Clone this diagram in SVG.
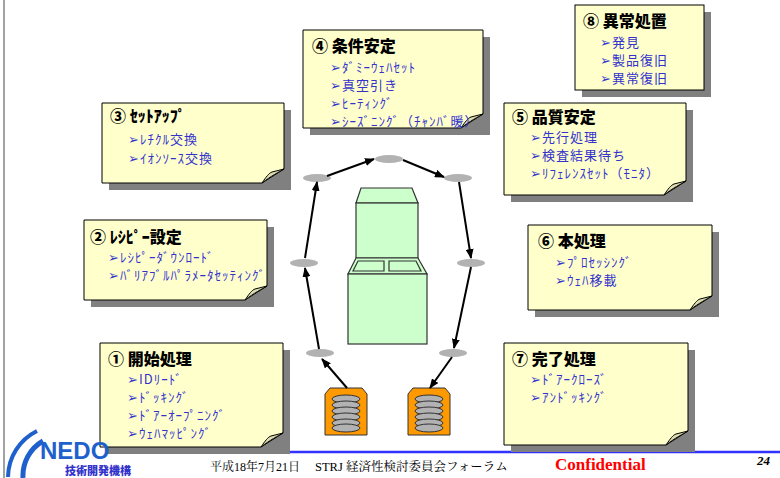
<svg xmlns="http://www.w3.org/2000/svg" width="780" height="478" viewBox="0 0 780 478">
  <defs>
    <style>
      .note { fill: #ffffcc; stroke: #000; stroke-width: 1; }
      .shadow { fill: #808080; }
      .fold { fill: #dcdcb0; stroke: #000; stroke-width: 1; }
      .title { font-family: "Noto Sans CJK JP", "DejaVu Sans", sans-serif; font-weight: 900; font-size: 16px; fill: #000; }
      .item { font-family: "Noto Sans CJK JP", "DejaVu Sans", sans-serif; font-size: 13px; letter-spacing: 1px; fill: #3333cc; }
      .hub { fill: #b2b2b2; }
      .flow { stroke: #000; stroke-width: 2; fill: none; marker-end: url(#head); }
      .machine { fill: #ccffcc; stroke: #333; stroke-width: 1.2; }
      .pod { fill: #ff9900; stroke: #333; stroke-width: 1; }
      .disc { fill: #b2b2b2; stroke: #333; stroke-width: 1; }
    </style>
    <marker id="head" markerWidth="10" markerHeight="8" refX="9" refY="4" orient="auto" markerUnits="userSpaceOnUse">
      <path d="M0,0 L10,4 L0,8 Z" fill="#000"/>
    </marker>
  </defs>

  <rect x="0" y="0" width="780" height="478" fill="#fff"/>
  <!-- page edge -->
  <line x1="4" y1="0" x2="4" y2="478" stroke="#444" stroke-width="1"/>
  <!-- footer rule -->
  <line x1="200" y1="452" x2="780" y2="452" stroke="#3333ff" stroke-width="2.5"/>

  <!-- ⑧ -->
  <g id="note8">
    <rect class="shadow" x="582" y="12" width="129" height="85"/>
    <rect class="note" x="575" y="5" width="129" height="85"/>
    <text class="title" x="583" y="27">⑧ 異常処置</text>
    <text class="item" x="600" y="47">➢発見</text>
    <text class="item" x="600" y="65">➢製品復旧</text>
    <text class="item" x="600" y="83">➢異常復旧</text>
  </g>

  <!-- ④ -->
  <g id="note4">
    <path class="shadow" d="M310,37 H490 V135 H310 Z"/>
    <path class="note" d="M303,30 H483 V114 L461,128 H303 Z"/>
    <path class="fold" d="M461,128 C465,122 468,118 471,117 C475,116 479,115 483,114 C478,117 470,121 461,128 Z"/>
    <text class="title" x="312" y="52">④ 条件安定</text>
    <text class="item" x="330" y="72">➢ﾀﾞﾐｰｳｪﾊｾｯﾄ</text>
    <text class="item" x="330" y="90">➢真空引き</text>
    <text class="item" x="330" y="108">➢ﾋｰﾃｨﾝｸﾞ</text>
    <text class="item" x="330" y="126">➢ｼｰｽﾞﾆﾝｸﾞ（ﾁｬﾝﾊﾞ暖）</text>
  </g>

  <!-- ③ -->
  <g id="note3">
    <path class="shadow" d="M109,110 H291 V190 H109 Z"/>
    <path class="note" d="M102,103 H284 V169 L262,183 H102 Z"/>
    <path class="fold" d="M262,183 C266,177 269,173 272,172 C276,171 280,170 284,169 C279,172 271,176 262,183 Z"/>
    <text class="title" x="110" y="122">③ ｾｯﾄｱｯﾌﾟ</text>
    <text class="item" x="128" y="144">➢ﾚﾁｸﾙ交換</text>
    <text class="item" x="128" y="163">➢ｲｵﾝｿｰｽ交換</text>
  </g>

  <!-- ⑤ -->
  <g id="note5">
    <path class="shadow" d="M511,110 H693 V202 H511 Z"/>
    <path class="note" d="M504,103 H686 V181 L664,195 H504 Z"/>
    <path class="fold" d="M664,195 C668,189 671,185 674,184 C678,183 682,182 686,181 C681,184 673,188 664,195 Z"/>
    <text class="title" x="512" y="123">⑤ 品質安定</text>
    <text class="item" x="530" y="142">➢先行処理</text>
    <text class="item" x="530" y="160">➢検査結果待ち</text>
    <text class="item" x="530" y="178">➢ﾘﾌｪﾚﾝｽｾｯﾄ（ﾓﾆﾀ）</text>
  </g>

  <!-- ② -->
  <g id="note2">
    <path class="shadow" d="M91,227 H274 V307 H91 Z"/>
    <path class="note" d="M84,220 H267 V286 L245,300 H84 Z"/>
    <path class="fold" d="M245,300 C249,294 252,290 255,289 C259,288 263,287 267,286 C262,289 254,293 245,300 Z"/>
    <text class="title" x="90" y="243">② ﾚｼﾋﾟｰ設定</text>
    <text class="item" x="108" y="262">➢ﾚｼﾋﾟｰﾀﾞｳﾝﾛｰﾄﾞ</text>
    <text class="item" x="108" y="280">➢ﾊﾞﾘｱﾌﾞﾙﾊﾟﾗﾒｰﾀｾｯﾃｨﾝｸﾞ</text>
  </g>

  <!-- ⑥ -->
  <g id="note6">
    <path class="shadow" d="M535,232 H719 V317 H535 Z"/>
    <path class="note" d="M528,225 H712 V296 L690,310 H528 Z"/>
    <path class="fold" d="M690,310 C694,304 697,300 700,299 C704,298 708,297 712,296 C707,299 699,303 690,310 Z"/>
    <text class="title" x="538" y="247">⑥ 本処理</text>
    <text class="item" x="555" y="267">➢ﾌﾟﾛｾｯｼﾝｸﾞ</text>
    <text class="item" x="555" y="285">➢ｳｪﾊ移載</text>
  </g>

  <!-- ① -->
  <g id="note1">
    <path class="shadow" d="M107,350 H290 V454 H107 Z"/>
    <path class="note" d="M100,343 H283 V433 L261,447 H100 Z"/>
    <path class="fold" d="M261,447 C265,441 268,437 271,436 C275,435 279,434 283,433 C278,436 270,440 261,447 Z"/>
    <text class="title" x="108" y="365">① 開始処理</text>
    <text class="item" x="127" y="384">➢IDﾘｰﾄﾞ</text>
    <text class="item" x="127" y="402">➢ﾄﾞｯｷﾝｸﾞ</text>
    <text class="item" x="127" y="420">➢ﾄﾞｱｰｵｰﾌﾟﾆﾝｸﾞ</text>
    <text class="item" x="127" y="438">➢ｳｪﾊﾏｯﾋﾟﾝｸﾞ</text>
  </g>

  <!-- ⑦ -->
  <g id="note7">
    <path class="shadow" d="M511,350 H695 V452 H511 Z"/>
    <path class="note" d="M504,343 H688 V431 L666,445 H504 Z"/>
    <path class="fold" d="M666,445 C670,439 673,435 676,434 C680,433 684,432 688,431 C683,434 675,438 666,445 Z"/>
    <text class="title" x="512" y="365">⑦ 完了処理</text>
    <text class="item" x="530" y="384">➢ﾄﾞｱｰｸﾛｰｽﾞ</text>
    <text class="item" x="530" y="402">➢ｱﾝﾄﾞｯｷﾝｸﾞ</text>
  </g>

  <!-- process tool -->
  <g id="tool">
    <path class="machine" d="M361,188 H412 L418,203 H356 Z"/>
    <rect class="machine" x="356" y="203" width="62" height="55"/>
    <path class="machine" d="M356,258 H418 L427,274 H348 Z"/>
    <path class="machine" d="M358,261 H384 V271 H353 Z"/>
    <path class="machine" d="M389,261 H416 L421,271 H389 Z"/>
    <rect class="machine" x="348" y="274" width="79" height="70"/>
  </g>

  <!-- transfer stations -->
  <g id="stations">
    <ellipse class="hub" cx="389" cy="159" rx="14" ry="4"/>
    <ellipse class="hub" cx="317" cy="178" rx="14" ry="4"/>
    <ellipse class="hub" cx="458" cy="178" rx="14" ry="4"/>
    <ellipse class="hub" cx="304" cy="263" rx="14" ry="4"/>
    <ellipse class="hub" cx="471" cy="263" rx="14" ry="4"/>
    <ellipse class="hub" cx="320" cy="353" rx="14" ry="4"/>
    <ellipse class="hub" cx="453" cy="353" rx="14" ry="4"/>
  </g>

  <!-- wafer carriers -->
  <g id="carrier-in">
    <path class="pod" d="M330,388 H362 L367,394 V435 H325 V394 Z"/>
    <ellipse class="disc" cx="346" cy="399" rx="14" ry="4"/>
    <ellipse class="disc" cx="346" cy="405" rx="14" ry="4"/>
    <ellipse class="disc" cx="346" cy="411" rx="14" ry="4"/>
    <ellipse class="disc" cx="346" cy="417" rx="14" ry="4"/>
    <ellipse class="disc" cx="346" cy="423" rx="14" ry="4"/>
    <ellipse class="disc" cx="346" cy="428" rx="14" ry="4"/>
  </g>
  <g id="carrier-out">
    <path class="pod" d="M413,388 H445 L450,394 V435 H408 V394 Z"/>
    <ellipse class="disc" cx="429" cy="399" rx="14" ry="4"/>
    <ellipse class="disc" cx="429" cy="405" rx="14" ry="4"/>
    <ellipse class="disc" cx="429" cy="411" rx="14" ry="4"/>
    <ellipse class="disc" cx="429" cy="417" rx="14" ry="4"/>
    <ellipse class="disc" cx="429" cy="423" rx="14" ry="4"/>
    <ellipse class="disc" cx="429" cy="428" rx="14" ry="4"/>
  </g>

  <!-- wafer route -->
  <g id="connectors">
    <line class="flow" x1="347" y1="388" x2="322" y2="359"/>
    <line class="flow" x1="319" y1="349" x2="305" y2="268"/>
    <line class="flow" x1="305" y1="258" x2="317" y2="182"/>
    <line class="flow" x1="327" y1="176" x2="374" y2="159"/>
    <line class="flow" x1="403" y1="160" x2="444" y2="177"/>
    <line class="flow" x1="459" y1="182" x2="471" y2="258"/>
    <line class="flow" x1="471" y1="267" x2="454" y2="348"/>
    <line class="flow" x1="452" y1="357" x2="430" y2="388"/>
  </g>

  <!-- footer -->
  <g id="logo">
    <path d="M37,431 A52,52 0 0 0 8,477" fill="none" stroke="#1e60cc" stroke-width="4"/>
    <path d="M43,441 A40,40 0 0 0 23,478" fill="none" stroke="#1e60cc" stroke-width="5"/>
    <text x="40" y="459" font-family="'Liberation Sans', Arial, sans-serif" font-weight="bold" font-size="24" fill="#1e60cc">NEDO</text>
    <text x="65" y="475" font-family="'Noto Sans CJK JP', sans-serif" font-weight="900" font-size="11" fill="#3333cc">技術開発機構</text>
  </g>
  <text x="210" y="471" font-family="'Liberation Serif', 'Noto Serif CJK JP', 'Noto Sans CJK JP', serif" font-size="12" fill="#000">平成18年7月21日</text>
  <text x="315" y="471" font-family="'Liberation Serif', 'Noto Serif CJK JP', 'Noto Sans CJK JP', serif" font-size="12.5" fill="#000">STRJ 経済性検討委員会フォーラム</text>
  <text x="555" y="470" font-family="'Liberation Serif', serif" font-weight="bold" font-size="17" fill="#ff0000">Confidential</text>
  <text x="757" y="465" font-family="'Liberation Serif', serif" font-weight="bold" font-style="italic" font-size="13" fill="#000">24</text>
</svg>
